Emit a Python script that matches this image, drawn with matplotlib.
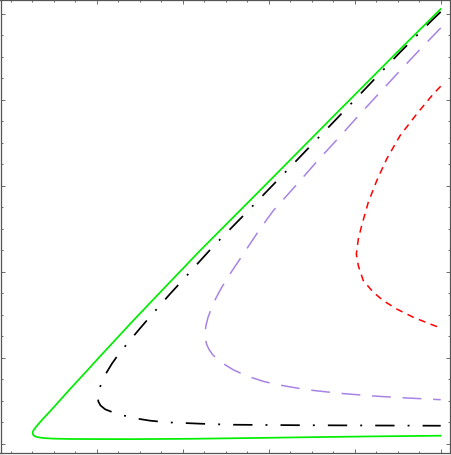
import matplotlib
matplotlib.use("Agg")
import matplotlib.pyplot as plt
from matplotlib.ticker import FixedLocator

plt.rcParams['lines.scale_dashes'] = False

# curve data (x, y), units: major tick = 1
green_x = [5.000, 4.527, 3.751, 2.977, 2.201, 1.814, 1.426, 1.038, 0.884, 0.690,
           0.495, 0.379, 0.317, 0.277, 0.259, 0.255, 0.264, 0.288, 0.341, 0.410,
           0.495, 0.690, 0.884, 1.387, 2.085, 2.800, 3.500, 4.200, 5.000]
green_y = [5.058, 4.589, 3.808, 3.026, 2.246, 1.841, 1.434, 1.015, 0.846, 0.636,
           0.418, 0.293, 0.223, 0.173, 0.145, 0.121, 0.099, 0.083, 0.071, 0.064,
           0.059, 0.055, 0.054, 0.053, 0.057, 0.066, 0.076, 0.085, 0.093]

black_x = [5.000, 4.914, 4.527, 4.140, 3.751, 3.500, 3.248, 2.995, 2.744, 2.356,
           2.240, 1.988, 1.852, 1.620, 1.503, 1.387, 1.263, 1.178, 1.108, 1.058,
           1.027, 1.013, 1.019, 1.044, 1.097, 1.193, 1.291, 1.445, 1.620, 1.814,
           2.201, 2.552, 3.364, 4.178, 5.000]
black_y = [5.024, 4.942, 4.554, 4.147, 3.740, 3.479, 3.216, 2.954, 2.693, 2.297,
           2.169, 1.890, 1.742, 1.477, 1.341, 1.203, 1.052, 0.933, 0.817, 0.712,
           0.625, 0.549, 0.491, 0.445, 0.401, 0.363, 0.334, 0.296, 0.268, 0.249,
           0.233, 0.221, 0.215, 0.212, 0.209]

purple_x = [5.000, 4.759, 4.527, 4.294, 4.062, 3.806, 3.558, 3.306, 3.053, 2.898,
            2.744, 2.643, 2.550, 2.453, 2.387, 2.335, 2.294, 2.271, 2.260, 2.262,
            2.277, 2.306, 2.347, 2.399, 2.469, 2.588, 2.744, 2.937, 3.093, 3.442,
            3.829, 4.216, 4.605, 5.000]
purple_y = [4.837, 4.587, 4.340, 4.088, 3.836, 3.551, 3.281, 2.993, 2.711, 2.498,
            2.266, 2.114, 1.975, 1.818, 1.695, 1.579, 1.468, 1.375, 1.300, 1.230,
            1.160, 1.096, 1.038, 0.986, 0.933, 0.860, 0.788, 0.726, 0.688, 0.628,
            0.586, 0.555, 0.532, 0.512]

red_x = [5.000, 4.914, 4.721, 4.527, 4.372, 4.256, 4.158, 4.081, 4.042, 4.019,
         4.042, 4.100, 4.216, 4.333, 4.488, 4.681, 4.876, 5.000]
red_y = [4.159, 4.069, 3.836, 3.584, 3.313, 3.060, 2.809, 2.537, 2.382, 2.207,
         2.071, 1.897, 1.762, 1.664, 1.567, 1.471, 1.393, 1.346]

x_major = [1, 2, 3, 4, 5]
y_major = [0, 1, 2, 3, 4, 5]

W, H = 451, 456
fig = plt.figure(figsize=(W / 100, H / 100), dpi=100)
ax = fig.add_axes([0.5 / W, (H - 454.3) / H, 449.8 / W, 453.6 / H])

ax.plot(green_x, green_y, color='#00ee00', lw=1.25, solid_joinstyle='round')
ax.plot(black_x, black_y, color='black', lw=1.25,
        linestyle=(0, (13.9, 9.4, 1.4, 9.4)), dash_capstyle='butt')
ax.plot(purple_x, purple_y, color='#a883e6', lw=1.1,
        linestyle=(0, (13.5, 8.5)), dash_capstyle='butt')
ax.plot(red_x, red_y, color='#ff0000', lw=1.1,
        linestyle=(0, (5, 4)), dash_capstyle='butt')

ax.set_xlim(-0.1186, 5.1116)
ax.set_ylim(-0.1117, 5.166)

x_minor = [v / 4 for v in range(0, 21) if v % 4 != 0]
y_minor = [v / 4 for v in range(0, 21) if v % 4 != 0]
ax.xaxis.set_major_locator(FixedLocator(x_major))
ax.yaxis.set_major_locator(FixedLocator(y_major))
ax.xaxis.set_minor_locator(FixedLocator([0] + x_minor))
ax.yaxis.set_minor_locator(FixedLocator(y_minor))
ax.tick_params(which='both', direction='in', top=True, right=True,
               labelbottom=False, labelleft=False, color='#555555', width=0.6)
ax.tick_params(which='major', length=3)
ax.tick_params(which='minor', length=1.6)
for s in ax.spines.values():
    s.set_color('#555555')
    s.set_linewidth(0.9)

fig.savefig('out.png', dpi=100)
